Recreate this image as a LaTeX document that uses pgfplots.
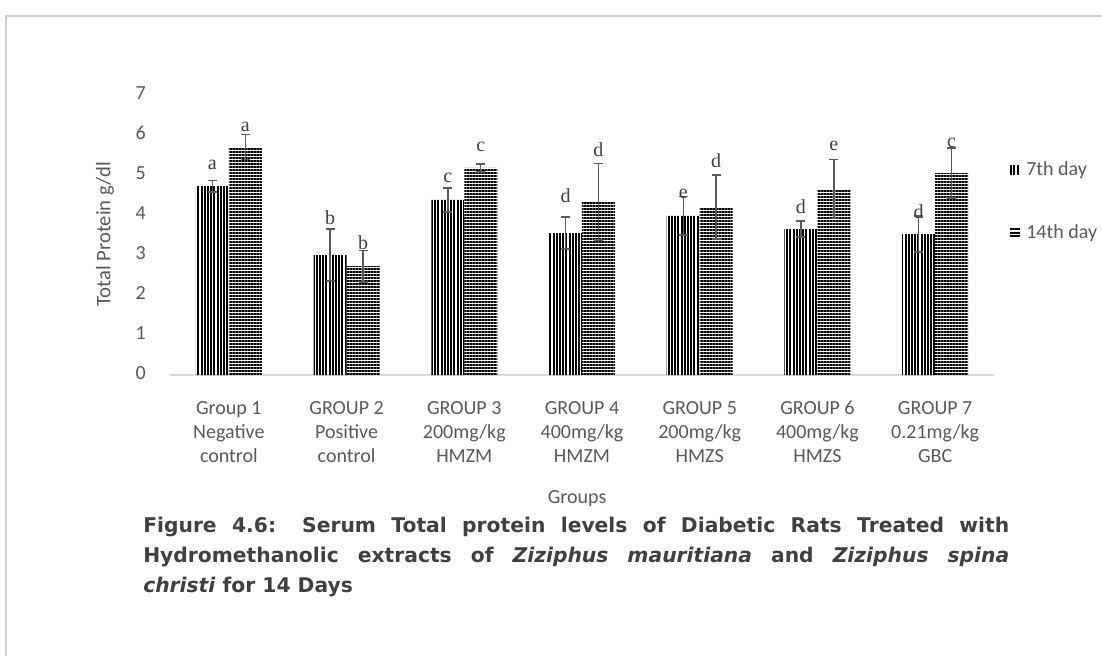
\documentclass[border=0pt]{standalone}
\usepackage{fontspec}
\setmainfont{Carlito}
\newfontfamily\capfont{DejaVu Sans}
\newfontfamily\letfont{Liberation Serif}
\usepackage{pgfplots}
\pgfplotsset{compat=1.18}
\usepackage{pgfplotstable}
\usetikzlibrary{patterns.meta}
\definecolor{txt}{HTML}{595959}
\definecolor{capc}{HTML}{404040}
\definecolor{errc}{HTML}{5A5A5A}
\newdimen\px \px=0.75pt

% x7 / x14: bar centres (group index -/+ half a bar width)
\pgfplotstableread{
x x7 y7 e7 x14 y14 e14
0 -0.14 4.72 0.14 0.14 5.70 0.31
1 0.86 3.00 0.65 1.14 2.72 0.39
2 1.86 4.38 0.30 2.14 5.18 0.10
3 2.86 3.55 0.40 3.14 4.33 0.96
4 3.86 3.98 0.48 4.14 4.20 0.80
5 4.86 3.65 0.20 5.14 4.65 0.74
6 5.86 3.52 0.45 6.14 5.05 0.62
}\prot

\begin{document}
\begin{tikzpicture}
\useasboundingbox (0,0) rectangle (1102\px,-656\px);
\draw[black!18, line width=1.5\px] (6\px,-700\px) -- (6\px,-16\px) -- (1200\px,-16\px);
\begin{axis}[
  at={(170\px,-375\px)}, anchor=south west,
  scale only axis, width=618pt, height=210pt,
  xmin=-0.5, xmax=6.5, ymin=0, ymax=7,
  xtick={0,...,6},
  xticklabels={{Group 1\\Negative\\control},{GROUP 2\\Positive\\control},{GROUP 3\\200mg/kg\\HMZM},{GROUP 4\\400mg/kg\\HMZM},{GROUP 5\\200mg/kg\\HMZS},{GROUP 6\\400mg/kg\\HMZS},{GROUP 7\\0.21mg/kg\\GBC}},
  typeset ticklabels with strut,
  ytick={0,...,7},
  axis x line*=bottom, axis y line*=left,
  axis line style={-},
  y axis line style={draw=none},
  x axis line style={draw=black!15, line width=1pt},
  major tick length=0pt, tick style={draw=none},
  /pgf/number format/assume math mode=true,
  ticklabel style={font=\fontsize{15}{18}\selectfont, text=txt},
  xticklabel style={align=center, inner sep=0pt, anchor=north, yshift=-17pt},
  yticklabel style={inner sep=0pt, anchor=east, xshift=-18pt},
  ylabel={Total Protein g/dl},
  ylabel style={font=\fontsize{15.5}{18}\selectfont, text=txt, at={(axis description cs:-0.079,0.504)}, anchor=center},
  xlabel={Groups},
  xlabel style={font=\fontsize{15}{18}\selectfont, text=txt, at={(axis description cs:0.494,-0.44)}, anchor=center},
  clip=false,
]
\addplot[ybar, bar width=24.75pt, bar shift=0pt, draw=none,
  pattern={Lines[angle=90, distance=2.4pt, line width=1.6pt]}, pattern color=black,
  error bars/.cd, y dir=both, y explicit,
  error bar style={color=errc, line width=1.1pt},
  error mark options={rotate=90, mark size=3.4pt, color=errc, line width=1.1pt}]
  table[x=x7, y=y7, y error=e7] {\prot};
\addplot[ybar, bar width=24.75pt, bar shift=0pt, draw=none,
  pattern={Lines[angle=0, distance=2.25pt, line width=1.55pt]}, pattern color=black,
  error bars/.cd, y dir=both, y explicit,
  error bar style={color=errc, line width=1.1pt},
  error mark options={rotate=90, mark size=3.4pt, color=errc, line width=1.1pt}]
  table[x=x14, y=y14, y error=e14] {\prot};
\addplot[draw=none, mark=none, forget plot, nodes near coords, point meta=explicit symbolic,
  every node near coord/.append style={anchor=center, inner sep=0pt, text=capc, font=\letfont\fontsize{15}{18}\selectfont}]
  coordinates {
  (-0.14,5.25)[a] (0.86,3.93)[b] (1.86,4.93)[c] (2.86,4.48)[d] (3.86,4.53)[e] (4.86,4.20)[d] (5.86,4.08)[d]
  (0.14,6.20)[a] (1.14,3.30)[b] (2.14,5.70)[c] (3.14,5.63)[d] (4.14,5.35)[d] (5.14,5.73)[e] (6.14,5.80)[c]
  };
\end{axis}
% legend keys
\begin{scope}[text=txt]
\foreach \i in {0,1,2} {\draw[black, line width=1.5pt] (1011\px+\i*3.4\px,-165\px) -- (1011\px+\i*3.4\px,-175\px);}
\foreach \i in {0,1,2} {\draw[black, line width=1.4pt] (1010\px,-229\px-\i*3.6\px) -- (1020\px,-229\px-\i*3.6\px);}
\node[anchor=west, inner sep=0pt, font=\fontsize{15}{18}\selectfont] at (1026\px,-170\px) {7th day};
\node[anchor=west, inner sep=0pt, font=\fontsize{15}{18}\selectfont] at (1026\px,-233\px) {14th day};
\end{scope}
\begin{scope}[every node/.style={anchor=base west, inner sep=0pt, text=capc, font=\capfont\bfseries\fontsize{15.2}{18}\selectfont}]
\node at (143\px,-532\px) {\makebox[866\px][s]{Figure 4.6: Serum Total protein levels of Diabetic Rats Treated with}};
\node at (143\px,-562\px) {\makebox[866\px][s]{Hydromethanolic extracts of \textit{Ziziphus mauritiana} and \textit{Ziziphus spina}}};
\node at (143\px,-592\px) {\textit{christi} for 14 Days};
\end{scope}
\end{tikzpicture}
\end{document}
